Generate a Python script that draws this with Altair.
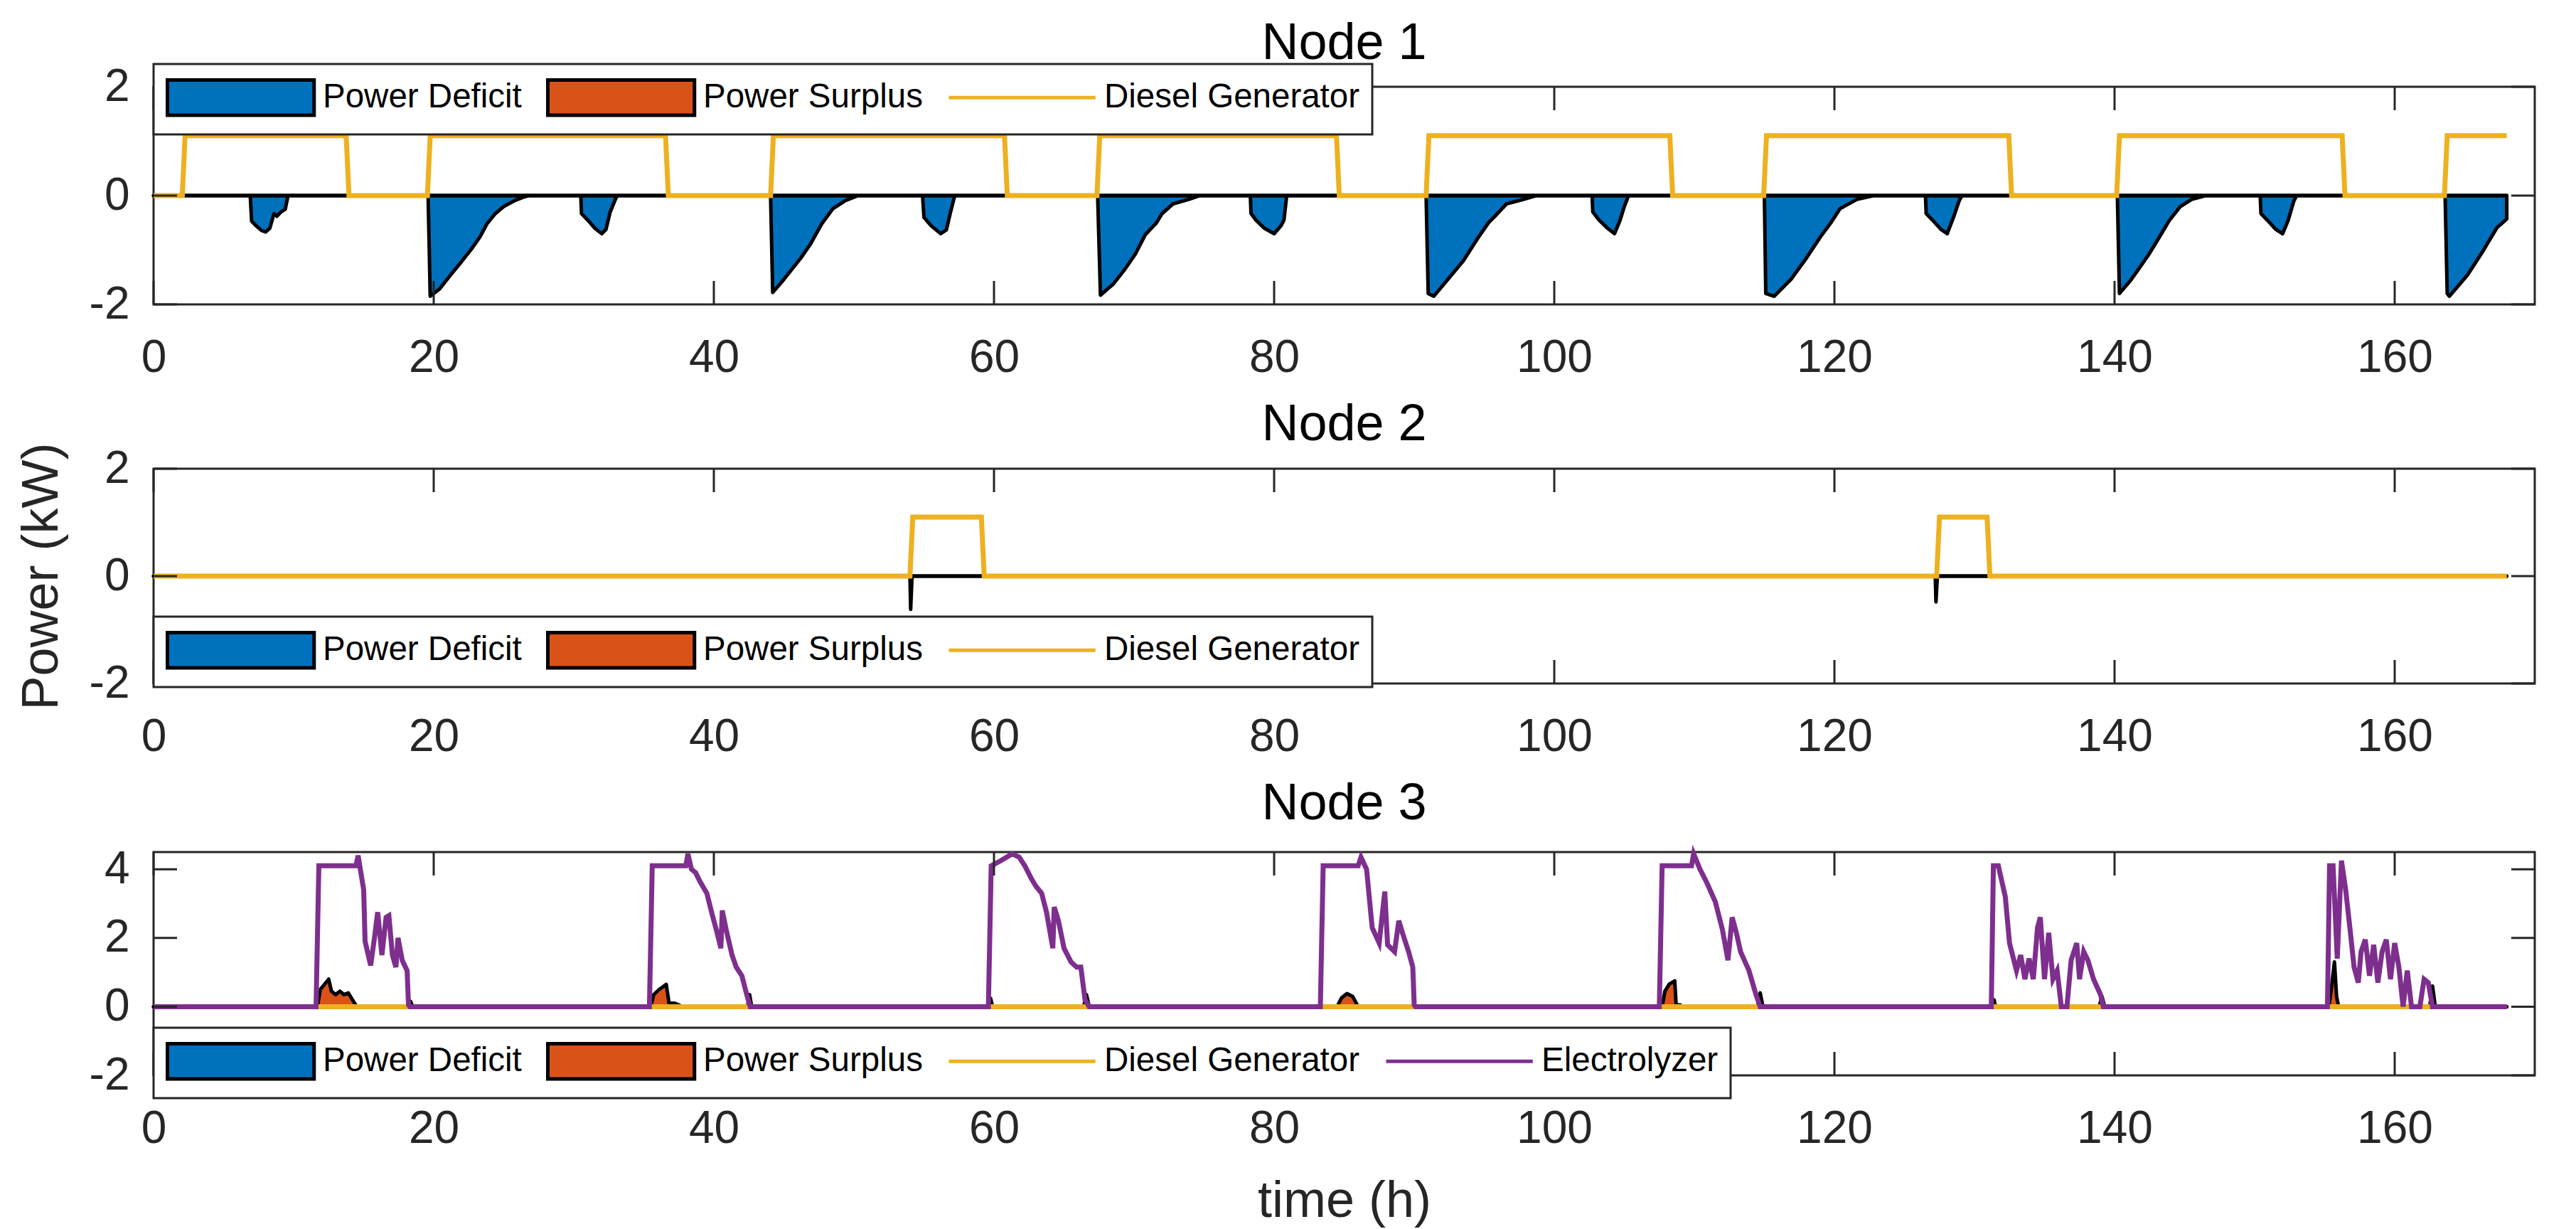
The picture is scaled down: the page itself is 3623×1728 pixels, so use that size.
import altair as alt
import pandas as pd

FONT = "Liberation Sans"
INK = "#262626"

# ---------------- data ----------------
x_ticks = [0, 20, 40, 60, 80, 100, 120, 140, 160]
y_ticks_node12 = [-2, 0, 2]
y_ticks_node3 = [-2, 0, 2, 4]
node_titles = ["Node 1", "Node 2", "Node 3"]
series_names = ["Power Deficit", "Power Surplus", "Diesel Generator", "Electrolyzer"]
series_fill = ["#0072BD", "#D95319", "#EDB120", "#7E2F8E"]
series_stroke = ["#000000", "#000000", "#EDB120", "#7E2F8E"]

# Node 1 (time h, power kW)
n1_deficit = [
    (0, 0),
    (6.9, 0), (7.0, -0.47), (7.3, -0.55), (7.7, -0.64), (8.0, -0.67), (8.3, -0.6), (8.6, -0.33),
    (8.8, -0.38), (9.1, -0.3), (9.4, -0.25), (9.6, 0),
    (19.6, 0), (19.75, -1.85), (20.4, -1.72), (21.2, -1.46), (21.9, -1.24), (22.7, -0.98), (23.3, -0.76),
    (23.8, -0.52), (24.4, -0.33), (25.0, -0.2), (25.8, -0.09), (26.5, -0.02), (26.8, 0),
    (30.5, 0), (30.55, -0.33), (31.0, -0.45), (31.5, -0.6), (32.0, -0.7), (32.3, -0.62), (32.6, -0.3),
    (33.0, -0.05), (33.1, 0),
    (44.05, 0), (44.2, -1.78), (45.0, -1.54), (46.2, -1.15), (46.9, -0.89), (47.7, -0.52), (48.5, -0.24),
    (49.4, -0.09), (50.3, 0),
    (54.9, 0), (55.0, -0.4), (55.5, -0.55), (56.2, -0.7), (56.6, -0.63), (56.9, -0.3), (57.2, 0),
    (67.4, 0), (67.6, -1.83), (68.5, -1.63), (69.3, -1.37), (70.1, -1.07), (70.8, -0.72), (71.6, -0.5),
    (72.0, -0.33), (72.8, -0.15), (73.9, -0.07), (74.7, 0),
    (78.3, 0), (78.35, -0.33), (78.7, -0.45), (79.3, -0.6), (80.0, -0.7), (80.5, -0.55), (80.7, -0.45),
    (80.9, 0),
    (90.85, 0), (91.0, -1.8), (91.4, -1.85), (92.4, -1.54), (93.5, -1.2), (94.5, -0.8), (95.3, -0.5),
    (95.8, -0.37), (96.6, -0.15), (97.8, -0.07), (98.7, 0),
    (102.7, 0), (102.75, -0.3), (103.2, -0.45), (103.8, -0.6), (104.3, -0.7), (104.7, -0.45),
    (105.0, -0.2), (105.3, 0),
    (115.0, 0), (115.1, -1.8), (115.7, -1.85), (116.9, -1.54), (118.0, -1.15), (119.0, -0.76),
    (119.8, -0.48), (120.4, -0.24), (121.6, -0.07), (122.8, 0),
    (126.5, 0), (126.55, -0.33), (127.0, -0.45), (127.6, -0.62), (128.05, -0.7), (128.5, -0.4),
    (128.9, -0.1), (129.1, 0),
    (140.2, 0), (140.35, -1.8), (141.2, -1.54), (142.4, -1.1), (143.3, -0.72), (143.9, -0.46),
    (144.7, -0.2), (145.5, -0.07), (146.5, 0),
    (150.4, 0), (150.45, -0.33), (150.9, -0.45), (151.5, -0.62), (152.0, -0.7), (152.4, -0.45),
    (152.8, -0.1), (153.0, 0),
    (163.6, 0), (163.75, -1.8), (163.9, -1.85), (165.2, -1.46), (166.3, -1.02), (167.3, -0.59),
    (168.0, -0.43),
]
n1_surplus = [(0, 0), (168, 0)]
n1_diesel = [
    (0, 0), (2.05, 0), (2.25, 1.1), (13.75, 1.1), (13.95, 0), (19.55, 0), (19.75, 1.1), (36.55, 1.1),
    (36.75, 0), (44.05, 0), (44.25, 1.1), (60.75, 1.1), (60.95, 0), (67.35, 0), (67.55, 1.1), (84.45, 1.1),
    (84.65, 0), (90.85, 0), (91.05, 1.1), (108.25, 1.1), (108.45, 0), (114.95, 0), (115.15, 1.1),
    (132.45, 1.1), (132.65, 0), (140.15, 0), (140.35, 1.1), (156.25, 1.1), (156.45, 0), (163.55, 0),
    (163.75, 1.1), (168, 1.1),
]

# Node 2
n2_deficit = [(0, 0), (54.0, 0), (54.05, -0.62), (54.15, 0), (127.2, 0), (127.25, -0.48), (127.35, 0), (168, 0)]
n2_surplus = [(0, 0), (168, 0)]
n2_diesel = [
    (0, 0), (54.0, 0), (54.2, 1.1), (59.1, 1.1), (59.3, 0), (127.3, 0), (127.5, 1.1), (130.9, 1.1),
    (131.1, 0), (168, 0),
]

# Node 3
n3_deficit = [(0, 0), (168, 0)]
n3_surplus = [
    (0, 0),
    (11.7, 0), (11.9, 0.5), (12.2, 0.65), (12.5, 0.8), (12.7, 0.45), (13.0, 0.35), (13.3, 0.45),
    (13.6, 0.35), (13.9, 0.4), (14.2, 0.2), (14.5, 0),
    (18.2, 0), (18.35, 0.15), (18.5, 0),
    (35.5, 0), (35.7, 0.35), (36.1, 0.5), (36.6, 0.65), (36.8, 0.1), (37.2, 0.1), (37.5, 0.05), (37.7, 0),
    (42.4, 0), (42.55, 0.35), (42.7, 0),
    (59.6, 0), (59.75, 0.25), (59.9, 0),
    (66.4, 0), (66.6, 0.35), (66.8, 0),
    (84.5, 0), (84.8, 0.25), (85.2, 0.38), (85.6, 0.3), (86.0, 0),
    (107.7, 0), (107.9, 0.45), (108.2, 0.65), (108.6, 0.75), (108.7, 0.05), (109.0, 0.05), (109.1, 0),
    (114.5, 0), (114.7, 0.4), (114.9, 0),
    (131.3, 0), (131.4, 0.2), (131.5, 0),
    (138.9, 0), (139.1, 0.3), (139.3, 0),
    (155.3, 0), (155.5, 0.6), (155.7, 1.3), (155.85, 0.3), (156.0, 0),
    (162.5, 0), (162.7, 0.6), (162.9, 0),
    (168, 0),
]
n3_diesel = [(0, 0), (168, 0)]
n3_electrolyzer = [
    (0, 0), (11.6, 0), (11.8, 4.1), (14.45, 4.1), (14.6, 4.4), (15.0, 3.4), (15.1, 1.9), (15.5, 1.2),
    (15.8, 2.1), (16.0, 2.75), (16.3, 1.5), (16.6, 2.6), (16.8, 2.65), (17.05, 1.5), (17.3, 1.15),
    (17.45, 2.0), (17.75, 1.35), (18.1, 1.05), (18.2, 0.05), (18.3, 0),
    (35.4, 0), (35.6, 4.1), (38.0, 4.1), (38.15, 4.45), (38.4, 4.0), (38.7, 3.9), (39.0, 3.65),
    (39.5, 3.3), (39.9, 2.65), (40.2, 2.2), (40.5, 1.7), (40.6, 2.8), (40.9, 2.2), (41.3, 1.5),
    (41.6, 1.15), (42.0, 0.9), (42.4, 0.27), (42.6, 0),
    (59.6, 0), (59.8, 4.1), (60.5, 4.25), (61.3, 4.45), (61.8, 4.35), (62.2, 4.1), (62.7, 3.7),
    (63.0, 3.5), (63.4, 3.3), (63.75, 2.75), (64.2, 1.7), (64.3, 2.9), (64.6, 2.5), (65.0, 1.7),
    (65.5, 1.3), (65.9, 1.15), (66.2, 1.15), (66.5, 0.2), (66.8, 0),
    (83.3, 0), (83.5, 4.1), (86.0, 4.1), (86.2, 4.35), (86.6, 4.0), (87.0, 2.3), (87.5, 1.85),
    (87.9, 3.35), (88.1, 1.8), (88.6, 1.6), (88.9, 2.5), (89.2, 2.1), (89.6, 1.6), (89.9, 1.15),
    (90.0, 0.05), (90.1, 0),
    (107.5, 0), (107.7, 4.1), (109.8, 4.1), (109.95, 4.45), (110.4, 4.0), (110.9, 3.6), (111.5, 3.05),
    (112.0, 2.25), (112.4, 1.35), (112.7, 2.6), (113.0, 2.15), (113.3, 1.6), (113.9, 1.05),
    (114.4, 0.35), (114.7, 0),
    (131.2, 0), (131.35, 4.1), (131.7, 4.1), (132.2, 3.2), (132.5, 1.85), (133.0, 1.05), (133.3, 1.5),
    (133.6, 0.8), (133.9, 1.4), (134.2, 0.8), (134.5, 2.3), (134.7, 2.6), (135.0, 0.8), (135.3, 2.15),
    (135.6, 0.8), (135.9, 1.05), (136.2, 0), (136.6, 0), (136.9, 1.35), (137.3, 1.85), (137.5, 0.8),
    (137.8, 1.6), (138.1, 1.35), (138.5, 0.8), (139.0, 0.35), (139.2, 0),
    (155.2, 0), (155.35, 4.1), (155.6, 4.1), (155.9, 1.4), (156.2, 4.25), (156.5, 3.4), (156.8, 2.3),
    (157.1, 1.15), (157.4, 0.7), (157.6, 1.6), (157.9, 1.95), (158.2, 0.9), (158.5, 1.8), (158.8, 0.7),
    (159.1, 1.6), (159.4, 1.95), (159.7, 0.8), (160.0, 1.85), (160.3, 1.15), (160.6, 0), (160.9, 1.05),
    (161.2, 0), (161.8, 0), (162.1, 0.8), (162.4, 0.7), (162.7, 0), (168, 0),
]

# ---------------- layout / style ----------------
W = 3349
TICK = 33
PATCH = "M-1,-0.9H6.5V0.9H-1Z"
LINE = "M-1,-0.9M-1,0.9M-1,0H6.5"


def frame(pairs, name):
    df = pd.DataFrame(pairs, columns=["t", "value"])
    df["series"] = name
    return df


def build_panel(idx, deficit, surplus, lines, n_series, height, ydomain, yticks,
                legend_y, title_offset, x_title=None, y_title=None):
    names = series_names[:n_series]
    fill_scale = alt.Scale(domain=names, range=series_fill[:n_series])
    stroke_scale = alt.Scale(domain=names, range=series_stroke[:n_series])
    shape_scale = alt.Scale(domain=names, range=[PATCH, PATCH] + [LINE] * (n_series - 2))
    xs = alt.Scale(domain=[0, 170], nice=False, zero=False)
    ys = alt.Scale(domain=ydomain, nice=False, zero=False)
    x_axis = alt.Axis(values=x_ticks, title=x_title, labelFlush=False, labelOverlap=False)
    y_axis = alt.Axis(values=yticks, title=y_title, labelFlush=False, labelOverlap=False,
                      labelExpr="replace(datum.label, '\u2212', '-')")
    xe = alt.X("t:Q", scale=xs, axis=x_axis)
    ye = alt.Y("value:Q", scale=ys, axis=y_axis, stack=None)

    leg = alt.Legend(
        title=None, orient="none", legendX=0, legendY=legend_y, direction="horizontal",
        symbolSize=3025, symbolStrokeWidth=5, symbolOpacity=1,
        labelFont=FONT, labelFontSize=47.5, labelColor="black", labelOffset=161, labelLimit=2000,
        columnPadding=26, padding=17, strokeColor=INK, fillColor="white",
    )

    # legend source layer (draws no marks itself)
    phantom = alt.Chart(pd.DataFrame({"series": names})).transform_filter("false").mark_point(
        filled=True, opacity=1
    ).encode(
        fill=alt.Fill("series:N", scale=fill_scale, legend=leg),
        stroke=alt.Stroke("series:N", scale=stroke_scale, legend=leg),
        shape=alt.Shape("series:N", scale=shape_scale, legend=leg),
    )

    area_df = pd.concat([frame(deficit, series_names[0]), frame(surplus, series_names[1])])
    area = alt.Chart(area_df).mark_area(stroke="black", strokeWidth=5, strokeJoin="round").encode(
        x=xe, y=ye, fill=alt.Fill("series:N", scale=fill_scale, legend=leg)
    )
    line_layers = []
    for k, pairs in enumerate(lines):
        line_layers.append(
            alt.Chart(frame(pairs, series_names[2 + k])).mark_line(strokeWidth=7).encode(
                x=xe, y=ye, stroke=alt.Stroke("series:N", scale=stroke_scale, legend=leg)
            )
        )

    # inward tick marks drawn on top of the data (box style)
    xt = pd.DataFrame({"t": x_ticks})
    yt = pd.DataFrame({"value": yticks})
    rule = dict(color=INK, strokeWidth=3)
    top = alt.Chart(xt).mark_rule(**rule).encode(x=xe, y=alt.value(0), y2=alt.value(TICK))
    bottom = alt.Chart(xt).mark_rule(**rule).encode(x=xe, y=alt.value(height), y2=alt.value(height - TICK))
    left = alt.Chart(yt).mark_rule(**rule).encode(y=ye, x=alt.value(0), x2=alt.value(TICK))
    right = alt.Chart(yt).mark_rule(**rule).encode(y=ye, x=alt.value(W - TICK), x2=alt.value(W))

    return alt.layer(phantom, area, *line_layers, top, bottom, left, right).properties(
        width=W, height=height,
        title=alt.TitleParams(text=node_titles[idx], offset=title_offset, frame="group"),
    )


p1 = build_panel(0, n1_deficit, n1_surplus, [n1_diesel], 3, 306, [-2, 2], y_ticks_node12,
                 legend_y=-32, title_offset=-9.5)
p2 = build_panel(1, n2_deficit, n2_surplus, [n2_diesel], 3, 302, [-2, 2], y_ticks_node12,
                 legend_y=208, title_offset=-12, y_title="Power (kW)")
p3 = build_panel(2, n3_deficit, n3_surplus, [n3_diesel, n3_electrolyzer], 4, 314, [-2, 4.5],
                 y_ticks_node3, legend_y=247, title_offset=19, x_title="time (h)")

chart = (
    alt.vconcat(p1, p2, p3, spacing=22)
    .resolve_scale(fill="independent", stroke="independent", shape="independent")
    .resolve_legend(fill="independent", stroke="independent", shape="independent")
    .properties(padding={"left": 12, "top": 15, "right": 10, "bottom": 0}, background="white")
    .configure_view(stroke=INK, strokeWidth=3)
    .configure_axis(
        labelFont=FONT, labelFontSize=64, labelColor=INK, ticks=False, domain=False, grid=False,
        titleFont=FONT, titleFontSize=72, titleFontWeight="normal", titleColor=INK,
    )
    .configure_axisX(labelPadding=43, titlePadding=34)
    .configure_axisY(labelPadding=34, titlePadding=30)
    .configure_title(font=FONT, fontSize=72, fontWeight="normal", color="black",
                     baseline="alphabetic", anchor="middle")
    .configure_legend(strokeWidth=3)
)

chart.save("out.html", embed_options={"renderer": "svg", "actions": False})
